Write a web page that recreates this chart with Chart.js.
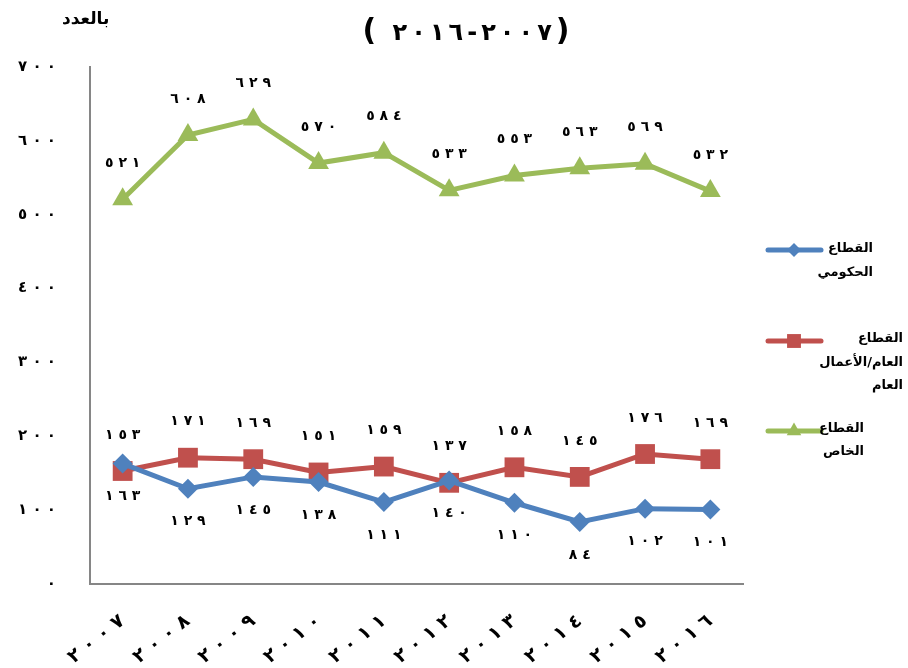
<!DOCTYPE html>
<html lang="ar">
<head>
<meta charset="utf-8">
<script src="https://cdn.jsdelivr.net/npm/chart.js@4.4.1/dist/chart.umd.min.js"></script>
<style>
  body { margin: 0; background: #fff; }
  #wrap { position: relative; width: 908px; height: 668px; }
  #title { position: absolute; left: 356px; top: 12px; width: 220px; display: flex; direction: ltr;
           justify-content: center; align-items: baseline; gap: 4px; font: bold 24px "DejaVu Sans"; }
  #title .p { font-size: 30px; }
  #unit { position: absolute; left: 62px; top: 8px; font: bold 17px "DejaVu Sans"; }
</style>
</head>
<body>
<div id="wrap">
  <canvas id="lineChart" width="908" height="668"></canvas>
  <div id="title"></div>
  <div id="unit" dir="rtl">بالعدد</div>
</div>
<script>
// data
var years = [2007, 2008, 2009, 2010, 2011, 2012, 2013, 2014, 2015, 2016];
var govValues = [163, 129, 145, 138, 111, 140, 110, 84, 102, 101];
var publicValues = [153, 171, 169, 151, 159, 137, 158, 145, 176, 169];
var privateValues = [521, 608, 629, 570, 584, 533, 553, 563, 569, 532];
var seriesNames = [["القطاع", "الحكومي"], ["القطاع", "العام/الأعمال", "العام"], ["القطاع", "الخاص"]];
var yMin = 0, yMax = 700, yStep = 100;

var digitsAr = '٠١٢٣٤٥٦٧٨٩';
// arabic-indic digits, spaced out, kept in left-to-right order
function arabicDigits(n) {
    return String(n).split('').map(function (d) { return digitsAr[d]; }).join('\u200E \u200E');
}

// title "(2016 - 2007)" laid out glyph by glyph so the order stays as printed
var titleChars = ['(', ' '].concat(
    String(years[years.length - 1]).split('').map(function (d) { return digitsAr[d]; }),
    ['-'],
    String(years[0]).split('').map(function (d) { return digitsAr[d]; }),
    [')']);
var titleEl = document.getElementById('title');
titleChars.forEach(function (c) {
    var s = document.createElement('span');
    s.textContent = c === ' ' ? '\u00A0' : c;
    if (c === '(' || c === ')') s.className = 'p';
    titleEl.appendChild(s);
});

var blue = "#4F81BD", red = "#C0504D", green = "#9BBB59";

// value labels over / under the points
var valueLabels = {
    id: 'valueLabels',
    afterDatasetsDraw: function (chart) {
        var ctx = chart.ctx;
        var offsets = [33, -36, -36];
        ctx.save();
        ctx.font = "bold 14px 'DejaVu Sans'";
        ctx.fillStyle = "#000";
        ctx.textAlign = "center";
        ctx.textBaseline = "middle";
        ctx.direction = "ltr";
        chart.data.datasets.forEach(function (ds, i) {
            chart.getDatasetMeta(i).data.forEach(function (pt, j) {
                ctx.fillText(arabicDigits(ds.data[j]), pt.x, pt.y + offsets[i]);
            });
        });
        ctx.restore();
    }
};

// legend on the right, names on several lines
var sideLegend = {
    id: 'sideLegend',
    afterDraw: function (chart) {
        var ctx = chart.ctx;
        var rows = [
            { y: 250, textX: 873, lines: [249, 273] },
            { y: 341, textX: 903, lines: [339, 363, 386] },
            { y: 431, textX: 864, lines: [429, 452] }
        ];
        ctx.save();
        chart.data.datasets.forEach(function (ds, i) {
            var r = rows[i];
            ctx.strokeStyle = ds.borderColor;
            ctx.lineWidth = 5;
            ctx.lineCap = "round";
            ctx.beginPath();
            ctx.moveTo(768, r.y);
            ctx.lineTo(821, r.y);
            ctx.stroke();
            ctx.fillStyle = ds.backgroundColor;
            Chart.helpers.drawPoint(ctx, {
                pointStyle: ds.pointStyle,
                radius: ds.pointRadius * 0.7,
                rotation: 0,
                borderWidth: 0
            }, 794, r.y);
            ctx.fillStyle = "#000";
            ctx.font = "bold 13px 'DejaVu Sans'";
            ctx.textAlign = "right";
            ctx.textBaseline = "middle";
            ctx.direction = "rtl";
            seriesNames[i].forEach(function (t, k) {
                ctx.fillText(t, r.textX, r.lines[k]);
            });
        });
        ctx.restore();
    }
};

var myChart = document.getElementById("lineChart").getContext('2d');

var data = {
    labels: years.map(arabicDigits),
    datasets: [{
        label: seriesNames[0].join(' '),
        data: govValues,
        borderColor: blue,
        backgroundColor: blue,
        borderWidth: 5,
        pointStyle: 'rectRot',
        pointRadius: 10,
        pointBorderWidth: 0
    }, {
        label: seriesNames[1].join(' '),
        data: publicValues,
        borderColor: red,
        backgroundColor: red,
        borderWidth: 5,
        pointStyle: 'rect',
        pointRadius: 14,
        pointBorderWidth: 0
    }, {
        label: seriesNames[2].join(' '),
        data: privateValues,
        borderColor: green,
        backgroundColor: green,
        borderWidth: 5,
        pointStyle: 'triangle',
        pointRadius: 12,
        pointBorderWidth: 0
    }]
};

var options = {
    responsive: false,
    animation: false,
    layout: { padding: { left: 0, top: 67, right: 165, bottom: 0 } },
    plugins: {
        legend: { display: false },
        title: { display: false },
        tooltip: { enabled: false }
    },
    scales: {
        x: {
            offset: true,
            grid: { display: false, drawTicks: false },
            border: { color: "#868686", width: 2 },
            ticks: {
                minRotation: 38,
                maxRotation: 38,
                padding: 26,
                color: "#000",
                font: { family: "DejaVu Sans", size: 19, weight: "bold" }
            },
            afterFit: function (scale) { scale.height = 84; }
        },
        y: {
            min: yMin,
            max: yMax,
            grid: { display: false, drawTicks: false },
            border: { color: "#868686", width: 2 },
            ticks: {
                stepSize: yStep,
                padding: 34,
                color: "#000",
                font: { family: "DejaVu Sans", size: 15, weight: "bold" },
                callback: function (v) { return arabicDigits(v); }
            },
            afterFit: function (scale) { scale.width = 90; }
        }
    }
};

var chart = new Chart(myChart, {
    type: "line",
    data: data,
    options: options,
    plugins: [valueLabels, sideLegend]
});
</script>
</body>
</html>
